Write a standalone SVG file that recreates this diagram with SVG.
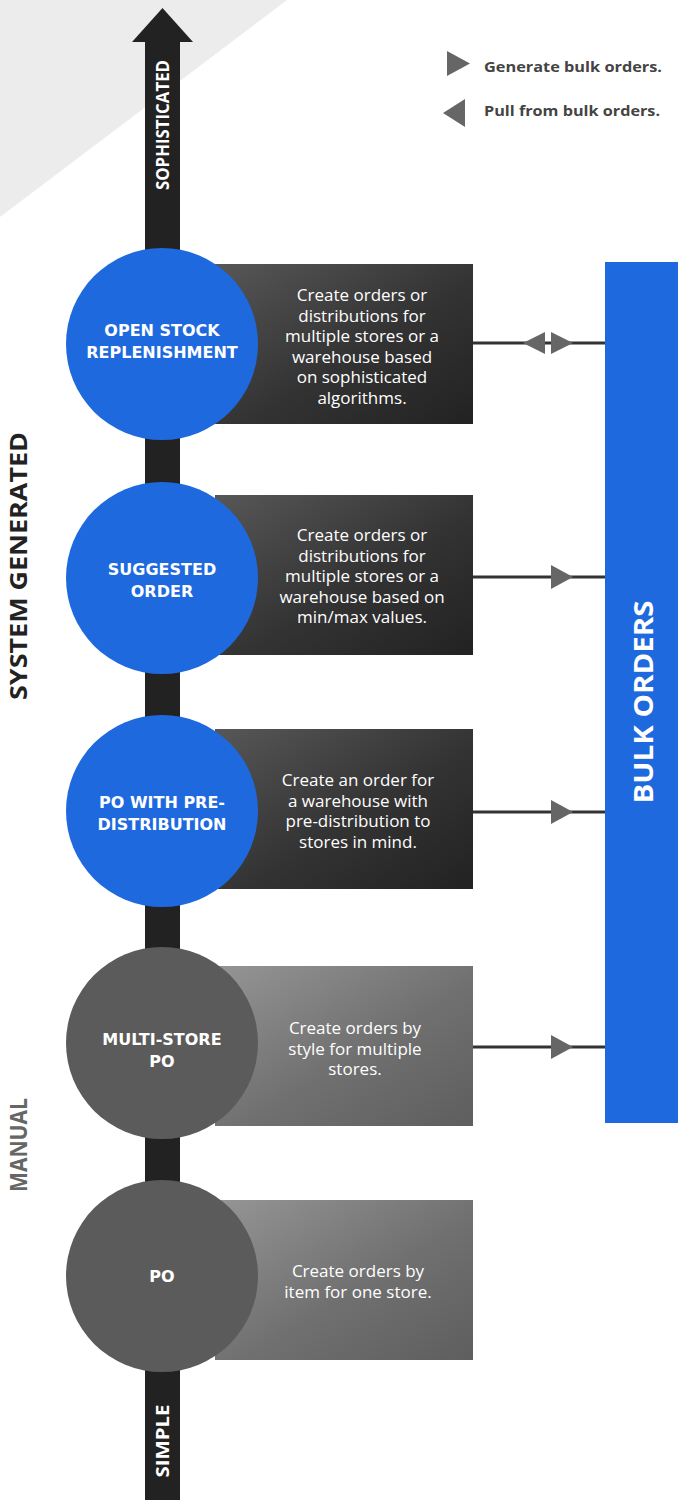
<svg xmlns="http://www.w3.org/2000/svg" width="678" height="1500" viewBox="0 0 678 1500">
  <style>
    .lbl { font-family: "Open Sans", "Liberation Sans", sans-serif; font-weight: 700; fill: #ffffff; text-anchor: middle; }
    .node-title { font-family: "DejaVu Sans", "Open Sans", sans-serif; font-size: 16px; }
    .desc { font-family: "Open Sans", "Liberation Sans", sans-serif; font-size: 17px; fill: #ffffff; text-anchor: middle; }
    .side { font-family: "Open Sans", "Liberation Sans", sans-serif; font-weight: 700; font-size: 24px; text-anchor: middle; }
    .legend { font-family: "Open Sans", "Liberation Sans", sans-serif; font-weight: 700; font-size: 14px; fill: #444444; }
    .conn { stroke: #333333; stroke-width: 3; fill: none; }
    .tri { fill: #666666; }
  </style>
  <defs>
    <linearGradient id="darkBox" x1="0" y1="0" x2="1" y2="1">
      <stop offset="0" stop-color="#575757"/>
      <stop offset="0.55" stop-color="#333333"/>
      <stop offset="1" stop-color="#222222"/>
    </linearGradient>
    <linearGradient id="greyBox" x1="0" y1="0" x2="1" y2="1">
      <stop offset="0" stop-color="#959595"/>
      <stop offset="0.55" stop-color="#707070"/>
      <stop offset="1" stop-color="#5e5e5e"/>
    </linearGradient>
  </defs>

  <!-- background -->
  <rect x="0" y="0" width="678" height="1500" fill="#ffffff"/>
  <polygon points="0,0 287,0 0,217" fill="#ececec"/>

  <!-- complexity spine -->
  <g id="spine">
    <rect x="145" y="40" width="35" height="1460" fill="#222222"/>
    <polygon points="162.5,8 132,42 193,42" fill="#222222"/>
    <text class="lbl" font-size="17" textLength="130" lengthAdjust="spacingAndGlyphs" transform="translate(169,125) rotate(-90)">SOPHISTICATED</text>
    <text class="lbl" font-size="17" textLength="73" lengthAdjust="spacingAndGlyphs" transform="translate(169,1441) rotate(-90)">SIMPLE</text>
  </g>

  <!-- side labels -->
  <text class="side" fill="#222222" textLength="268" lengthAdjust="spacingAndGlyphs" transform="translate(27,566) rotate(-90)">SYSTEM GENERATED</text>
  <text class="side" fill="#666666" textLength="94" lengthAdjust="spacingAndGlyphs" transform="translate(27,1145) rotate(-90)">MANUAL</text>

  <!-- legend -->
  <g id="legend">
    <polygon class="tri" points="447,51 470,63.5 447,76"/>
    <text class="legend" x="484" y="72" textLength="178" lengthAdjust="spacingAndGlyphs">Generate bulk orders.</text>
    <polygon class="tri" points="465,99 443,113 465,127"/>
    <text class="legend" x="484" y="116" textLength="176" lengthAdjust="spacingAndGlyphs">Pull from bulk orders.</text>
  </g>

  <!-- connectors to bulk orders -->
  <g id="connectors">
    <line class="conn" x1="472" y1="343" x2="606" y2="343"/>
    <polygon class="tri" points="545,332 523,343 545,354"/>
    <polygon class="tri" points="551,332 573,343 551,354"/>
    <line class="conn" x1="472" y1="577" x2="606" y2="577"/>
    <polygon class="tri" points="551,565 573,577 551,589"/>
    <line class="conn" x1="472" y1="812" x2="606" y2="812"/>
    <polygon class="tri" points="551,800 573,812 551,824"/>
    <line class="conn" x1="472" y1="1047" x2="606" y2="1047"/>
    <polygon class="tri" points="551,1035 573,1047 551,1059"/>
  </g>

  <!-- bulk orders bar -->
  <g id="bulk-orders">
    <rect x="605" y="262" width="73" height="861" fill="#1f69df"/>
    <text class="lbl" font-size="27" textLength="203" lengthAdjust="spacingAndGlyphs" transform="translate(653,702) rotate(-90)">BULK ORDERS</text>
  </g>

  <!-- ordering methods -->
  <g id="open-stock-replenishment">
    <rect x="215" y="264" width="258" height="160" fill="url(#darkBox)"/>
    <circle cx="162" cy="344" r="96" fill="#1f69df"/>
    <text class="lbl node-title" x="162" y="336">OPEN STOCK</text>
    <text class="lbl node-title" x="162" y="358">REPLENISHMENT</text>
    <text class="desc" x="362" y="301">Create orders or</text>
    <text class="desc" x="362" y="321.5">distributions for</text>
    <text class="desc" x="362" y="342">multiple stores or a</text>
    <text class="desc" x="362" y="362.5">warehouse based</text>
    <text class="desc" x="362" y="383">on sophisticated</text>
    <text class="desc" x="362" y="403.5">algorithms.</text>
  </g>

  <g id="suggested-order">
    <rect x="215" y="495" width="258" height="160" fill="url(#darkBox)"/>
    <circle cx="162" cy="578" r="96" fill="#1f69df"/>
    <text class="lbl node-title" x="162" y="575">SUGGESTED</text>
    <text class="lbl node-title" x="162" y="597">ORDER</text>
    <text class="desc" x="362" y="541">Create orders or</text>
    <text class="desc" x="362" y="561.5">distributions for</text>
    <text class="desc" x="362" y="582">multiple stores or a</text>
    <text class="desc" x="362" y="602.5">warehouse based on</text>
    <text class="desc" x="362" y="623">min/max values.</text>
  </g>

  <g id="po-with-pre-distribution">
    <rect x="215" y="729" width="258" height="160" fill="url(#darkBox)"/>
    <circle cx="162" cy="811" r="96" fill="#1f69df"/>
    <text class="lbl node-title" x="162" y="808">PO WITH PRE-</text>
    <text class="lbl node-title" x="162" y="830">DISTRIBUTION</text>
    <text class="desc" x="358" y="786">Create an order for</text>
    <text class="desc" x="358" y="806.5">a warehouse with</text>
    <text class="desc" x="358" y="827">pre-distribution to</text>
    <text class="desc" x="358" y="847.5">stores in mind.</text>
  </g>

  <g id="multi-store-po">
    <rect x="215" y="966" width="258" height="160" fill="url(#greyBox)"/>
    <circle cx="162" cy="1043" r="96" fill="#5b5b5b"/>
    <text class="lbl node-title" x="162" y="1045">MULTI-STORE</text>
    <text class="lbl node-title" x="162" y="1067">PO</text>
    <text class="desc" x="355" y="1034">Create orders by</text>
    <text class="desc" x="355" y="1054.5">style for multiple</text>
    <text class="desc" x="355" y="1075">stores.</text>
  </g>

  <g id="po">
    <rect x="215" y="1200" width="258" height="160" fill="url(#greyBox)"/>
    <circle cx="162" cy="1276" r="96" fill="#5b5b5b"/>
    <text class="lbl node-title" x="162" y="1282">PO</text>
    <text class="desc" x="358" y="1277">Create orders by</text>
    <text class="desc" x="358" y="1297.5">item for one store.</text>
  </g>
</svg>
